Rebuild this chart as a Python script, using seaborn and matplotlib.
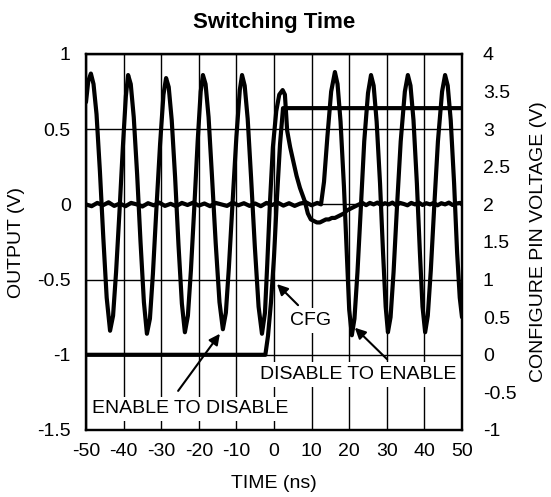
import matplotlib
matplotlib.use("Agg")
import matplotlib.pyplot as plt
import seaborn as sns
import pandas as pd

# ---------------- data ----------------
title = "Switching Time"
x_label = "TIME (ns)"
y_label = "OUTPUT (V)"
y2_label = "CONFIGURE PIN VOLTAGE (V)"

x_ticks = [-50, -40, -30, -20, -10, 0, 10, 20, 30, 40, 50]
x_tick_labels = ["-50", "-40", "-30", "-20", "-10", "0", "10", "20", "30", "40", "50"]
y_ticks = [-1.5, -1.0, -0.5, 0.0, 0.5, 1.0]
y_tick_labels = ["-1.5", "-1", "-0.5", "0", "0.5", "1"]
y2_ticks = [-1.0, -0.5, 0.0, 0.5, 1.0, 1.5, 2.0, 2.5, 3.0, 3.5, 4.0]
y2_tick_labels = ["-1", "-0.5", "0", "0.5", "1", "1.5", "2", "2.5", "3", "3.5", "4"]

# ENABLE TO DISABLE output (V)
t_e2d = [-50.0, -49.4, -48.7, -48.0, -47.2, -46.3, -45.4, -44.5, -43.6, -42.8,
         -42.0, -41.1, -40.2, -39.4, -38.8, -38.1, -37.3, -36.4, -35.5, -34.6,
         -33.8, -33.0, -32.2, -31.3, -30.3, -29.4, -28.7, -28.0, -27.2, -26.3,
         -25.4, -24.5, -23.7, -22.9, -22.1, -21.2, -20.3, -19.5, -18.9, -18.2,
         -17.4, -16.5, -15.5, -14.5, -13.6, -12.8, -12.0, -11.0, -10.0, -9.1,
         -8.5, -7.8, -7.0, -6.1, -5.1, -4.1, -3.2, -2.4, -1.8, -1.1,
         -0.3, 0.6, 1.4, 2.3, 2.9, 3.5, 4.3, 5.1, 6.0, 6.9,
         8.2, 9.0, 9.8, 10.6, 11.4, 12.2, 13.0, 13.8, 14.6, 15.4,
         16.2, 17.0, 17.8, 18.6, 19.4, 20.2, 21.0, 21.8, 22.6, 23.5,
         24.5, 25.5, 26.5, 27.5, 28.5, 29.5, 30.5, 31.5, 32.5, 33.5,
         34.5, 35.5, 36.5, 37.5, 38.5, 39.5, 40.5, 41.5, 42.5, 43.5,
         44.5, 45.5, 46.5, 47.5, 48.5, 49.5, 50.0]
v_e2d = [0.68, 0.82, 0.87, 0.80, 0.60, 0.22, -0.22, -0.62, -0.84, -0.74,
         -0.45, -0.05, 0.38, 0.72, 0.86, 0.80, 0.58, 0.20, -0.25, -0.65,
         -0.86, -0.76, -0.46, -0.04, 0.40, 0.73, 0.84, 0.78, 0.56, 0.18,
         -0.27, -0.66, -0.85, -0.74, -0.44, -0.02, 0.42, 0.75, 0.86, 0.80,
         0.58, 0.19, -0.26, -0.65, -0.83, -0.72, -0.42, 0.02, 0.45, 0.76,
         0.86, 0.79, 0.57, 0.18, -0.28, -0.68, -0.86, -0.72, -0.40, 0.00,
         0.38, 0.62, 0.73, 0.76, 0.73, 0.49, 0.38, 0.29, 0.19, 0.11,
         0.02, -0.06, -0.10, -0.11, -0.12, -0.12, -0.11, -0.10, -0.10, -0.09,
         -0.09, -0.08, -0.07, -0.06, -0.04, -0.03, -0.02, -0.01, 0.00, 0.01,
         -0.005, 0.01, 0.0, 0.012, -0.005, 0.008, 0.0, 0.012, -0.006, 0.01,
         0.003, -0.006, 0.01, 0.0, 0.012, -0.004, 0.008, 0.0, 0.01, -0.006,
         0.008, 0.0, 0.012, -0.004, 0.006, 0.01, 0.0]

# DISABLE TO ENABLE output (V)
t_d2e = [-50.0, -48.5, -47.0, -45.5, -44.0, -42.5, -41.0, -39.5, -38.0, -36.5,
         -35.0, -33.5, -32.0, -30.5, -29.0, -27.5, -26.0, -24.5, -23.0, -21.5,
         -20.0, -18.5, -17.0, -15.5, -14.0, -12.5, -11.0, -9.5, -8.0, -6.5,
         -5.0, -3.5, -2.0, -0.5, 1.0, 2.5, 4.0, 5.5, 7.0, 8.5,
         10.0, 11.5, 12.5, 13.3, 14.2, 15.2, 16.2, 16.9, 17.7, 18.6,
         19.4, 20.0, 20.7, 21.4, 22.2, 23.1, 24.0, 25.0, 25.8, 26.5,
         27.3, 28.2, 29.0, 29.7, 30.3, 31.0, 31.8, 32.7, 33.7, 34.8,
         35.6, 36.3, 37.1, 38.0, 38.8, 39.5, 40.2, 40.9, 41.7, 42.6,
         43.6, 44.7, 45.5, 46.2, 47.0, 47.9, 48.7, 49.4, 50.0]
v_d2e = [0.0, -0.012, 0.01, -0.006, 0.014, -0.01, 0.006, -0.012, 0.01, 0.0,
         -0.014, 0.008, -0.006, 0.012, -0.01, 0.004, -0.012, 0.01, -0.004, 0.012,
         -0.008, 0.006, -0.012, 0.01, 0.0, -0.01, 0.012, -0.006, 0.008, -0.01,
         0.006, -0.012, 0.01, -0.004, 0.012, -0.008, 0.008, -0.01, 0.006, 0.014,
         -0.006, 0.01, 0.0, 0.15, 0.45, 0.75, 0.88, 0.80, 0.55, 0.12,
         -0.35, -0.70, -0.87, -0.76, -0.45, -0.02, 0.42, 0.74, 0.86, 0.79,
         0.55, 0.14, -0.32, -0.68, -0.85, -0.75, -0.45, -0.02, 0.42, 0.75,
         0.86, 0.79, 0.56, 0.14, -0.32, -0.68, -0.85, -0.74, -0.44, -0.02,
         0.42, 0.75, 0.86, 0.79, 0.56, 0.14, -0.32, -0.62, -0.75]

# CFG pin voltage (V), right axis
t_cfg = [-50.0, -2.3, -1.6, -0.8, 0.0, 0.8, 1.6, 2.4, 50.0]
v_cfg = [0.0, 0.0, 0.25, 0.7, 1.3, 2.1, 2.8, 3.28, 3.28]

# annotations
ann_texts = ["CFG", "DISABLE TO ENABLE", "ENABLE TO DISABLE"]

# ---------------- plotting ----------------
sns.set_theme(style="white")
plt.rcParams["font.family"] = ["Liberation Sans", "DejaVu Sans"]
plt.rcParams["text.color"] = "black"
plt.rcParams["axes.labelcolor"] = "black"
plt.rcParams["xtick.color"] = "black"
plt.rcParams["ytick.color"] = "black"

FS = 14
fig = plt.figure(figsize=(5.51, 4.97), dpi=100)
ax = fig.add_axes([86 / 551, 1 - 430 / 497, (462 - 86) / 551, (430 - 54) / 497])

df_e2d = pd.DataFrame({"t": t_e2d, "v": v_e2d})
df_d2e = pd.DataFrame({"t": t_d2e, "v": v_d2e})
df_cfg = pd.DataFrame({"t": t_cfg, "v": v_cfg})

lw = 3.0
sns.lineplot(data=df_d2e, x="t", y="v", ax=ax, color="black", lw=lw,
             estimator=None, sort=False, zorder=3)
sns.lineplot(data=df_e2d, x="t", y="v", ax=ax, color="black", lw=lw,
             estimator=None, sort=False, zorder=3)

ax.set_xlim(-50, 50)
ax.set_ylim(-1.5, 1.0)
ax.set_xticks(x_ticks)
ax.set_xticklabels(x_tick_labels, fontsize=FS)
ax.set_yticks(y_ticks)
ax.set_yticklabels(y_tick_labels, fontsize=FS)
ax.tick_params(axis="both", length=0)
ax.tick_params(axis="y", pad=11)
ax.tick_params(axis="x", pad=9)
ax.grid(True, color="black", lw=1.0, zorder=1)
ax.set_axisbelow(True)
for s in ax.spines.values():
    s.set_color("black")
    s.set_linewidth(1.6)

ax.set_xlabel(x_label, fontsize=FS, labelpad=11)
ax.set_ylabel(y_label, fontsize=FS, labelpad=9)
ax.set_title(title, fontsize=16, fontweight="bold", pad=19)

ax2 = ax.twinx()
sns.lineplot(data=df_cfg, x="t", y="v", ax=ax2, color="black", lw=lw,
             estimator=None, sort=False)
ax2.set_ylim(-1, 4)
ax2.set_yticks(y2_ticks)
ax2.set_yticklabels(y2_tick_labels, fontsize=FS)
ax2.tick_params(axis="y", length=0, pad=15)
ax2.set_ylabel(y2_label, fontsize=FS, labelpad=10)
ax2.grid(False)
for s in ax2.spines.values():
    s.set_color("black")
    s.set_linewidth(1.6)

# text labels with white boxes (cover grid lines)
box = dict(boxstyle="square,pad=0.2", fc="white", ec="none")
ax.text(9.6, -0.77, ann_texts[0], fontsize=FS, ha="center", va="center", bbox=box, zorder=5)
ax.text(22.3, -1.13, ann_texts[1], fontsize=FS, ha="center", va="center", bbox=box, zorder=5)
ax.text(-22.3, -1.36, ann_texts[2], fontsize=FS, ha="center", va="center", bbox=box, zorder=5)

arrow = dict(arrowstyle="-|>", color="black", lw=1.5, mutation_scale=16, shrinkA=0, shrinkB=0)
ax2.annotate("", xy=(0.8, 2 * -0.53 + 2), xytext=(6.4, 2 * -0.67 + 2), arrowprops=arrow)
ax2.annotate("", xy=(21.5, 2 * -0.82 + 2), xytext=(30.1, 2 * -1.03 + 2), arrowprops=arrow)
ax2.annotate("", xy=(-14.4, 2 * -0.86 + 2), xytext=(-25.5, 2 * -1.24 + 2), arrowprops=arrow)

fig.savefig("out.png", dpi=100)
